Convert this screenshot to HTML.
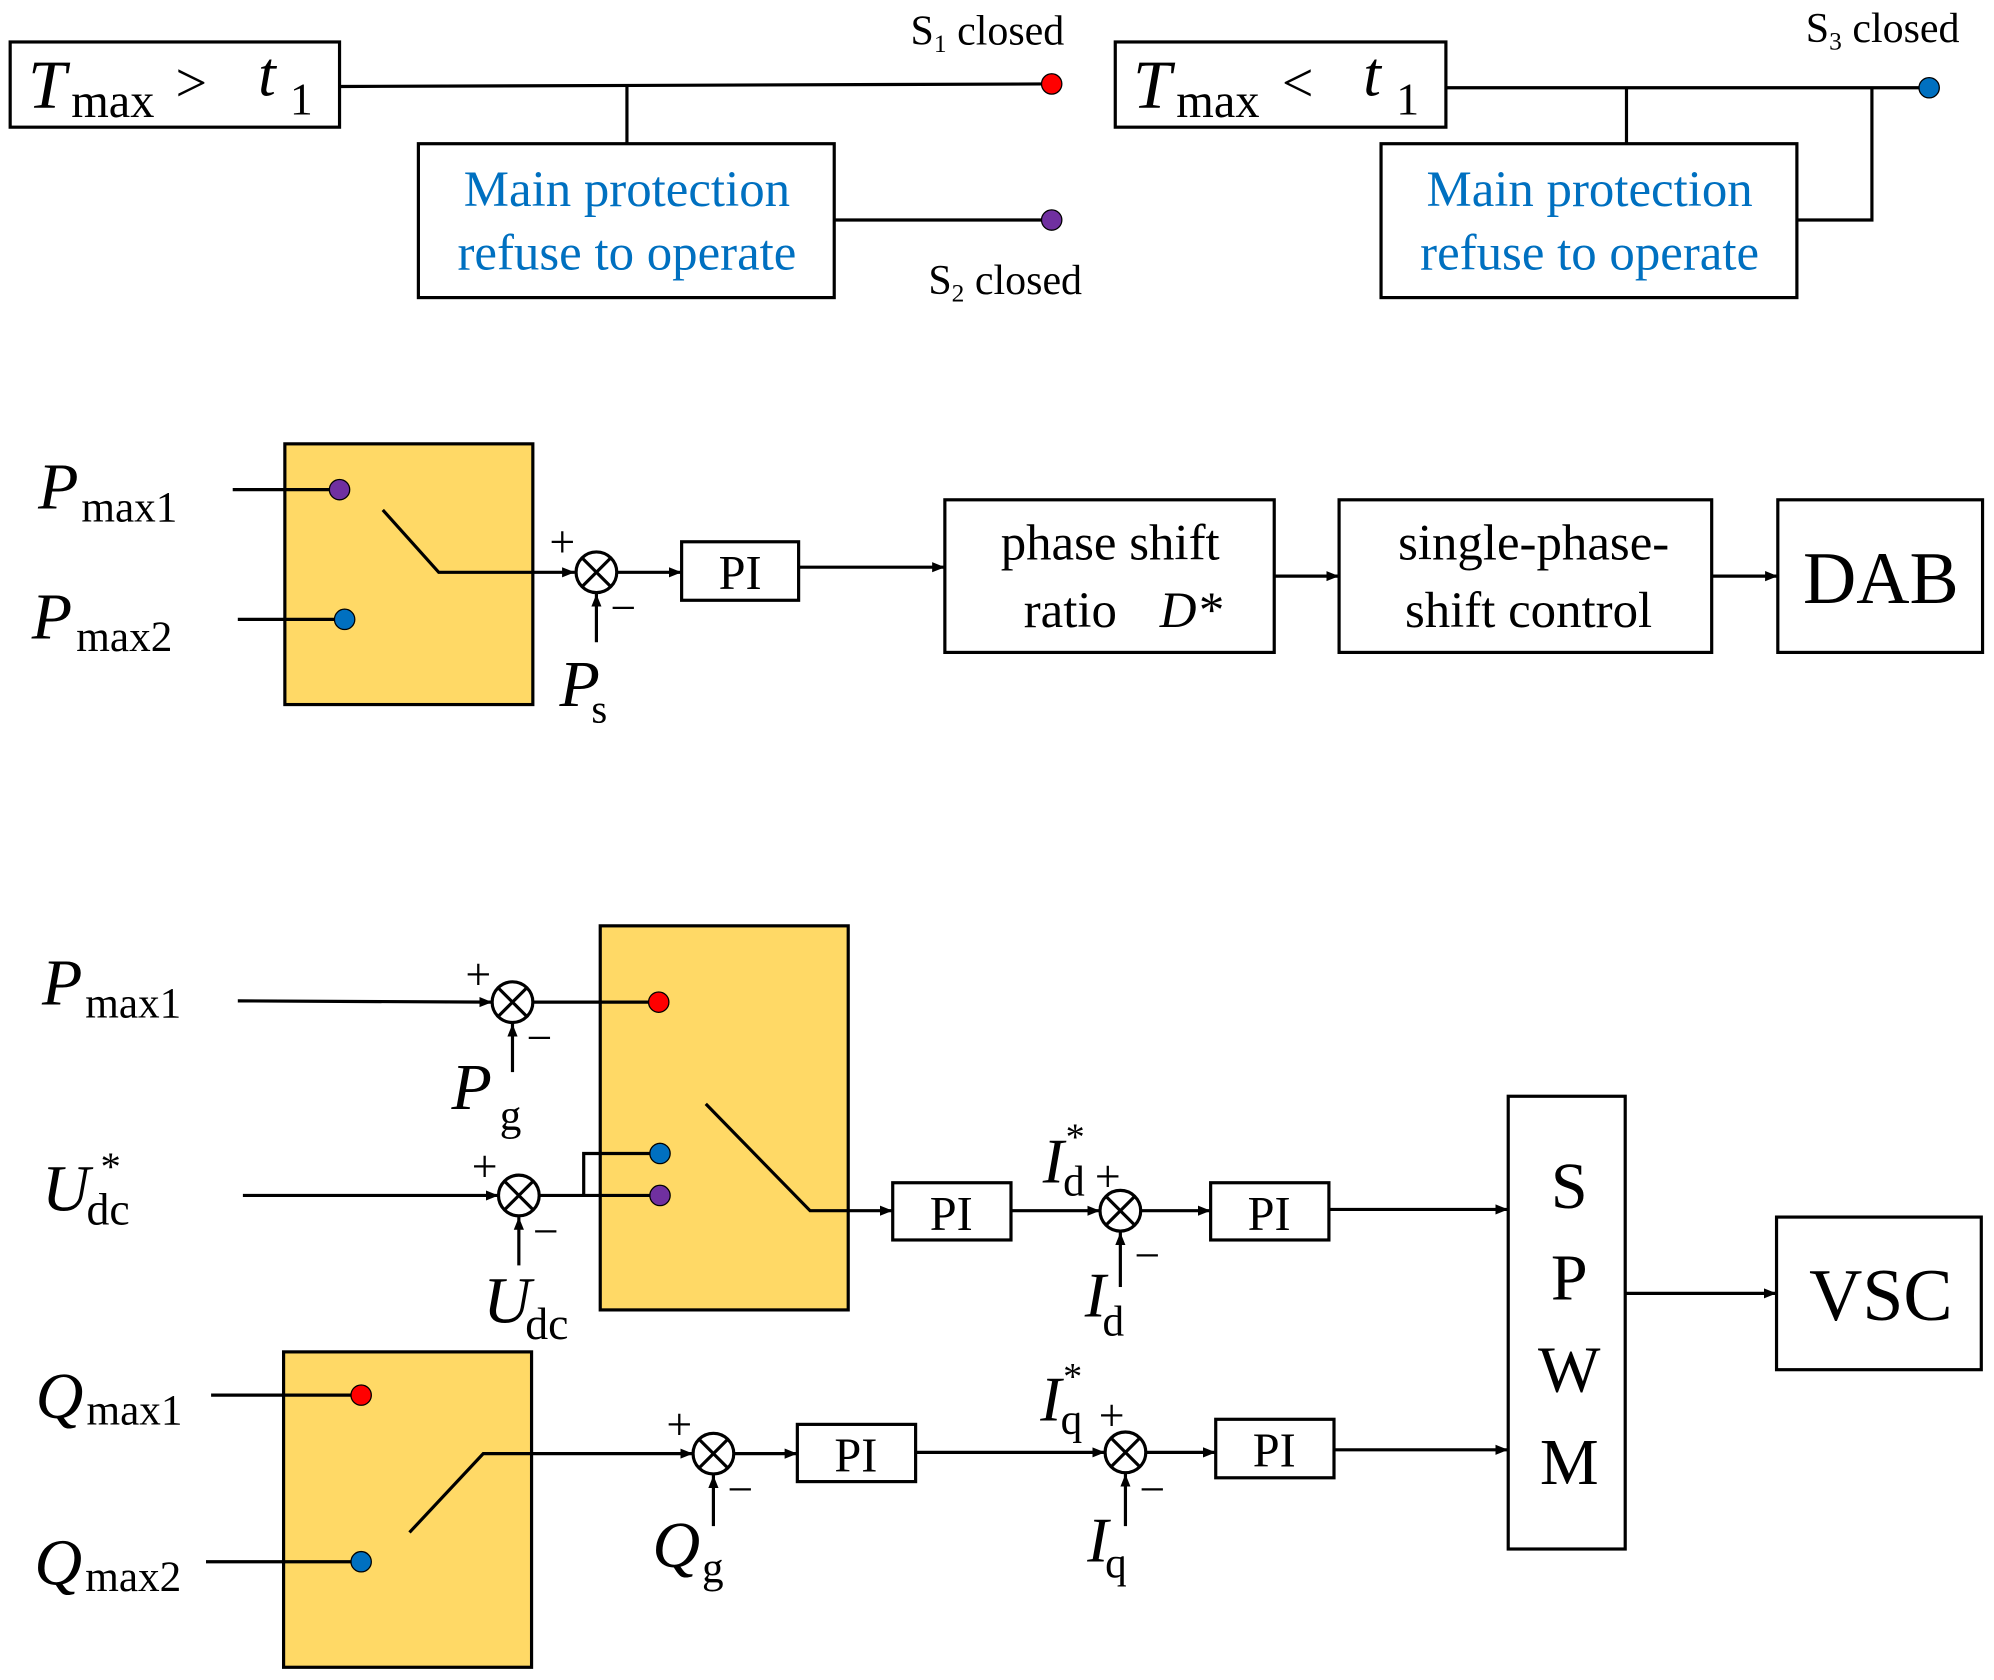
<!DOCTYPE html>
<html><head><meta charset="utf-8"><style>html,body{margin:0;padding:0;background:#fff}svg{display:block}</style></head>
<body>
<svg width="1994" height="1680" viewBox="0 0 1568 1321" preserveAspectRatio="none" xmlns="http://www.w3.org/2000/svg" font-family="'Liberation Serif',serif">
<defs><marker id="a" viewBox="0 0 10 10" refX="10" refY="5" markerWidth="10" markerHeight="10" markerUnits="userSpaceOnUse" orient="auto"><path d="M0,1 L10,5 L0,9 z" fill="#000"/></marker></defs>
<g stroke="#000" stroke-width="2.5" fill="none">
<rect x="8" y="33" width="259" height="67"/>
<line x1="267" y1="68" x2="820" y2="66"/>
<line x1="493" y1="67" x2="493" y2="113"/>
<rect x="329" y="113" width="327" height="121"/>
<line x1="656" y1="173" x2="820" y2="173"/>
<rect x="877" y="33" width="260" height="67"/>
<line x1="1137" y1="69" x2="1510" y2="69"/>
<line x1="1279" y1="69" x2="1279" y2="113"/>
<rect x="1086" y="113" width="327" height="121"/>
<polyline points="1413,173 1472,173 1472,69"/>
<rect x="224" y="349" width="195" height="205" fill="#FFD966"/>
<line x1="183" y1="385" x2="267" y2="385"/>
<line x1="187" y1="487" x2="271" y2="487"/>
<polyline points="301,401 345,450 452,450" marker-end="url(#a)"/>
<circle cx="469" cy="450" r="16"/>
<path d="M458,439 L480,461 M480,439 L458,461"/>
<line x1="469" y1="505" x2="469" y2="467" marker-end="url(#a)"/>
<line x1="485" y1="450" x2="536" y2="450" marker-end="url(#a)"/>
<rect x="536" y="426" width="92" height="46"/>
<line x1="628" y1="446" x2="743" y2="446" marker-end="url(#a)"/>
<rect x="743" y="393" width="259" height="120"/>
<line x1="1002" y1="453" x2="1053" y2="453" marker-end="url(#a)"/>
<rect x="1053" y="393" width="293" height="120"/>
<line x1="1346" y1="453" x2="1398" y2="453" marker-end="url(#a)"/>
<rect x="1398" y="393" width="161" height="120"/>
<rect x="472" y="728" width="195" height="302" fill="#FFD966"/>
<line x1="187" y1="787" x2="387" y2="788" marker-end="url(#a)"/>
<circle cx="403" cy="788" r="16"/>
<path d="M392,777 L414,799 M414,777 L392,799"/>
<line x1="403" y1="843" x2="403" y2="805" marker-end="url(#a)"/>
<line x1="419" y1="788" x2="518" y2="788"/>
<line x1="191" y1="940" x2="392" y2="940" marker-end="url(#a)"/>
<circle cx="408" cy="940" r="16"/>
<path d="M397,929 L419,951 M419,929 L397,951"/>
<line x1="408" y1="995" x2="408" y2="957" marker-end="url(#a)"/>
<line x1="424" y1="940" x2="519" y2="940"/>
<polyline points="459,940 459,907 519,907"/>
<polyline points="555,868 637,952 702,952" marker-end="url(#a)"/>
<rect x="702" y="930" width="93" height="45"/>
<line x1="795" y1="952" x2="865" y2="952" marker-end="url(#a)"/>
<circle cx="881" cy="952" r="16"/>
<path d="M870,941 L892,963 M892,941 L870,963"/>
<line x1="881" y1="1012" x2="881" y2="969" marker-end="url(#a)"/>
<line x1="897" y1="952" x2="952" y2="952" marker-end="url(#a)"/>
<rect x="952" y="930" width="93" height="45"/>
<line x1="1045" y1="951" x2="1186" y2="951" marker-end="url(#a)"/>
<rect x="1186" y="862" width="92" height="356"/>
<line x1="1278" y1="1017" x2="1397" y2="1017" marker-end="url(#a)"/>
<rect x="1397" y="957" width="161" height="120"/>
<rect x="223" y="1063" width="195" height="248" fill="#FFD966"/>
<line x1="166" y1="1097" x2="284" y2="1097"/>
<line x1="162" y1="1228" x2="284" y2="1228"/>
<polyline points="322,1205 380,1143 545,1143" marker-end="url(#a)"/>
<circle cx="561" cy="1143" r="16"/>
<path d="M550,1132 L572,1154 M572,1132 L550,1154"/>
<line x1="561" y1="1200" x2="561" y2="1160" marker-end="url(#a)"/>
<line x1="577" y1="1143" x2="627" y2="1143" marker-end="url(#a)"/>
<rect x="627" y="1120" width="93" height="45"/>
<line x1="720" y1="1142" x2="869" y2="1142" marker-end="url(#a)"/>
<circle cx="885" cy="1142" r="16"/>
<path d="M874,1131 L896,1153 M896,1131 L874,1153"/>
<line x1="885" y1="1200" x2="885" y2="1159" marker-end="url(#a)"/>
<line x1="901" y1="1142" x2="956" y2="1142" marker-end="url(#a)"/>
<rect x="956" y="1116" width="93" height="46"/>
<line x1="1049" y1="1140" x2="1186" y2="1140" marker-end="url(#a)"/>
</g>
<g stroke="#000" stroke-width="1">
<circle cx="827" cy="66" r="8" fill="#FF0000"/>
<circle cx="827" cy="173" r="8" fill="#7030A0"/>
<circle cx="1517" cy="69" r="8" fill="#0070C0"/>
<circle cx="267" cy="385" r="8" fill="#7030A0"/>
<circle cx="271" cy="487" r="8" fill="#0070C0"/>
<circle cx="518" cy="788" r="8" fill="#FF0000"/>
<circle cx="519" cy="907" r="8" fill="#0070C0"/>
<circle cx="519" cy="940" r="8" fill="#7030A0"/>
<circle cx="284" cy="1097" r="8" fill="#FF0000"/>
<circle cx="284" cy="1228" r="8" fill="#0070C0"/>
</g>
<g fill="#000">
<text x="22" y="85" font-size="54" font-style="italic">T</text><text x="56" y="92" font-size="38">max</text><text x="138" y="80" font-size="44">&gt;</text><text x="203" y="75" font-size="50" font-style="italic">t</text><text x="228" y="90" font-size="36">1</text>
<text x="891" y="85" font-size="54" font-style="italic">T</text><text x="925" y="92" font-size="38">max</text><text x="1008" y="80" font-size="44">&lt;</text><text x="1072" y="75" font-size="50" font-style="italic">t</text><text x="1098" y="90" font-size="36">1</text>
<text x="716" y="35" font-size="33">S<tspan font-size="20" dy="6">1</tspan><tspan dy="-6"> closed</tspan></text>
<text x="730" y="231" font-size="33">S<tspan font-size="20" dy="6">2</tspan><tspan dy="-6"> closed</tspan></text>
<text x="1420" y="33" font-size="33">S<tspan font-size="20" dy="6">3</tspan><tspan dy="-6"> closed</tspan></text>
</g>
<g fill="#0070C0" font-size="40" text-anchor="middle">
<text x="493" y="162">Main protection</text><text x="493" y="212">refuse to operate</text>
<text x="1250" y="162">Main protection</text><text x="1250" y="212">refuse to operate</text>
</g>
<g fill="#000">
<text x="30" y="400" font-size="52" font-style="italic">P</text><text x="64" y="410" font-size="34">max1</text>
<text x="25" y="502" font-size="52" font-style="italic">P</text><text x="60" y="512" font-size="34">max2</text>
<text x="432" y="438" font-size="36">+</text><text x="480" y="490" font-size="36">−</text>
<text x="440" y="555" font-size="52" font-style="italic">P</text><text x="465" y="568" font-size="32">s</text>
<text x="582" y="463" font-size="38" text-anchor="middle">PI</text>
<text x="873" y="440" font-size="40" text-anchor="middle">phase shift</text>
<text x="805" y="493" font-size="40">ratio</text><text x="912" y="493" font-size="40" font-style="italic">D*</text>
<text x="1206" y="440" font-size="40" text-anchor="middle">single-phase-</text>
<text x="1202" y="493" font-size="40" text-anchor="middle">shift control</text>
<text x="1479" y="474" font-size="58" text-anchor="middle">DAB</text>
<text x="33" y="790" font-size="52" font-style="italic">P</text><text x="67" y="800" font-size="34">max1</text>
<text x="366" y="778" font-size="36">+</text><text x="414" y="828" font-size="36">−</text>
<text x="355" y="872" font-size="52" font-style="italic">P</text><text x="393" y="888" font-size="34">g</text>
<text x="33" y="952" font-size="52" font-style="italic">U</text><text x="68" y="963" font-size="36">dc</text><text x="79" y="928" font-size="32">*</text>
<text x="371" y="929" font-size="36">+</text><text x="419" y="980" font-size="36">−</text>
<text x="380" y="1040" font-size="52" font-style="italic">U</text><text x="413" y="1053" font-size="36">dc</text>
<text x="748" y="967" font-size="38" text-anchor="middle">PI</text>
<text x="820" y="930" font-size="50" font-style="italic">I</text><text x="836" y="940" font-size="34">d</text><text x="838" y="904" font-size="30">*</text>
<text x="861" y="937" font-size="36">+</text><text x="892" y="999" font-size="36">−</text>
<text x="853" y="1035" font-size="50" font-style="italic">I</text><text x="867" y="1050" font-size="34">d</text>
<text x="998" y="967" font-size="38" text-anchor="middle">PI</text>
<g font-size="52" text-anchor="middle"><text x="1234" y="950">S</text><text x="1234" y="1022">P</text><text x="1234" y="1094">W</text><text x="1234" y="1167">M</text></g>
<text x="1479" y="1038" font-size="58" text-anchor="middle">VSC</text>
<text x="28" y="1115" font-size="52" font-style="italic">Q</text><text x="68" y="1120" font-size="34">max1</text>
<text x="27" y="1246" font-size="52" font-style="italic">Q</text><text x="67" y="1251" font-size="34">max2</text>
<text x="524" y="1132" font-size="36">+</text><text x="572" y="1183" font-size="36">−</text>
<text x="513" y="1232" font-size="52" font-style="italic">Q</text><text x="552" y="1244" font-size="34">g</text>
<text x="673" y="1157" font-size="38" text-anchor="middle">PI</text>
<text x="818" y="1117" font-size="50" font-style="italic">I</text><text x="834" y="1127" font-size="34">q</text><text x="836" y="1092" font-size="30">*</text>
<text x="864" y="1125" font-size="36">+</text><text x="896" y="1183" font-size="36">−</text>
<text x="855" y="1228" font-size="50" font-style="italic">I</text><text x="869" y="1240" font-size="34">q</text>
<text x="1002" y="1153" font-size="38" text-anchor="middle">PI</text>
</g>
</svg>
</body></html>
